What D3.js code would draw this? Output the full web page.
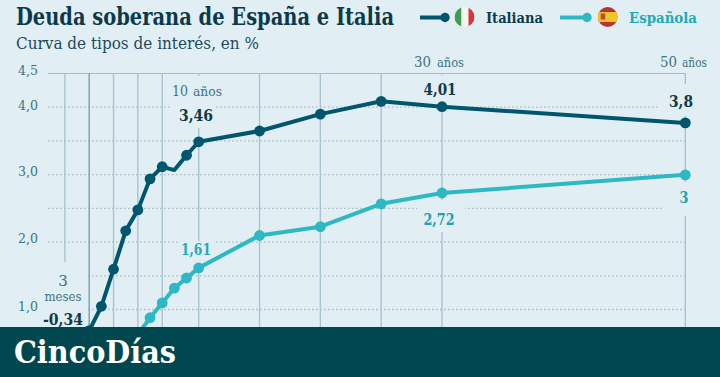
<!DOCTYPE html>
<html>
<head>
<meta charset="utf-8">
<script src="https://cdn.jsdelivr.net/npm/d3@7"></script>
<style>
  html, body { margin: 0; padding: 0; background: #e1eff4; }
  svg { display: block; font-family: "DejaVu Serif", serif; }
</style>
</head>
<body>
<svg id="chart" width="720" height="377" viewBox="0 0 720 377"></svg>
<script>
// Plazo en años; -1 y 0 son las posiciones de 3 y 6 meses.
const plazos = [-1, 0, 1, 2, 3, 4, 5, 6, 7, 8, 9, 10, 15, 20, 25, 30, 50];
// Los primeros valores quedan tapados por la banda inferior: estimados.
const italiana = [-0.34, 0.05, 0.68, 1.04, 1.59, 2.16, 2.47, 2.93, 3.11, 3.06, 3.28, 3.48, 3.64, 3.89, 4.08, 4.00, 3.76];
const espanola = [-0.5, -0.4, -0.2, 0.05, 0.25, 0.45, 0.62, 0.87, 1.09, 1.31, 1.46, 1.61, 2.09, 2.22, 2.56, 2.72, 2.99];
// Sin marcador en el punto de 8 años de la curva italiana.
const sinMarcadorItaliana = [8];
const plazosRejilla = [-1, 1, 3, 5, 7, 10, 15, 20, 25, 30, 50];
const ticksY = [1, 1.5, 2, 2.5, 3, 3.5, 4, 4.5];
const ticksConEtiqueta = [1, 2, 3, 4, 4.5];

const colorItaliana = "#00566e";
const colorEspanola = "#2db8c4";
const colorFondo = "#e1eff4";
const colorTexto = "#0f3a4b";
const colorEje = "#3b7487";
const colorBanda = "#00474f";

const svg = d3.select("#chart");
svg.append("rect").attr("width", 720).attr("height", 377).attr("fill", colorFondo);

const x = d3.scaleLinear().domain([0, 50]).range([77.05, 685.3]);
const y = d3.scaleLinear().domain([1, 4.5]).range([309, 73]);

// Rejilla horizontal con el eje de d3.
const ejeY = svg.append("g")
  .attr("transform", "translate(48,0)")
  .call(d3.axisLeft(y)
    .tickValues(ticksY)
    .tickSize(-637)
    .tickPadding(10)
    .tickFormat(d => {
      if (!ticksConEtiqueta.includes(d)) return "";
      return d3.format(".1f")(d).replace(".", ",");
    }));
ejeY.select(".domain").remove();
ejeY.selectAll(".tick line")
  .attr("stroke", d => d === 4.5 ? "#a3bfcc" : "#a9bcc4")
  .attr("stroke-width", d => d === 4.5 ? 1 : 1.3)
  .attr("stroke-dasharray", d => d === 4.5 ? null : "1.6 2.4");
ejeY.selectAll(".tick text")
  .attr("fill", colorEje)
  .attr("font-size", 13.5)
  .attr("font-family", "DejaVu Serif")
  .attr("textLength", 20)
  .attr("lengthAdjust", "spacingAndGlyphs")
  .attr("dy", d => d === 4.5 ? "0.12em" : (d === 4 ? "0.22em" : "0.1em"));

// Rejilla vertical.
svg.append("g").selectAll("line")
  .data(plazosRejilla)
  .join("line")
  .attr("x1", d => x(d))
  .attr("x2", d => x(d))
  .attr("y1", y(4.5))
  .attr("y2", 327)
  .attr("stroke", d => d === 1 ? "#86a9b9" : "#a9c4d0")
  .attr("stroke-width", d => d === 1 ? 1.6 : 1.4);

// Huecos de la rejilla detrás de las etiquetas.
const huecos = [
  [170, 76, 44, 52],
  [180, 241, 36, 25],
  [418, 75, 46, 27],
  [660, 84, 40, 32],
  [662, 182, 40, 34],
  [417, 200, 48, 32],
  [44, 262, 43, 65]
];
svg.append("g").selectAll("rect")
  .data(huecos)
  .join("rect")
  .attr("x", d => d[0])
  .attr("y", d => d[1])
  .attr("width", d => d[2])
  .attr("height", d => d[3])
  .attr("fill", colorFondo);

// Curvas.
const linea = d3.line().x(d => x(d[0])).y(d => y(d[1]));
function dibujarCurva(valores, color, sinMarcador) {
  const puntos = plazos.map((p, i) => [p, valores[i]]);
  svg.append("path")
    .attr("d", linea(puntos))
    .attr("fill", "none")
    .attr("stroke", color)
    .attr("stroke-width", 4)
    .attr("stroke-linejoin", "round");
  svg.append("g").selectAll("circle")
    .data(puntos.filter(d => !sinMarcador.includes(d[0])))
    .join("circle")
    .attr("cx", d => x(d[0]))
    .attr("cy", d => y(d[1]))
    .attr("r", 5.4)
    .attr("fill", color);
}
dibujarCurva(italiana, colorItaliana, sinMarcadorItaliana);
dibujarCurva(espanola, colorEspanola, []);

// Etiquetas de valor: texto, centro, línea base, color, ancho.
const etiquetas = [
  ["3,46", 196, 121, colorTexto, 34],
  ["4,01", 440, 95, colorTexto, 33],
  ["3,8", 681, 107, colorTexto, 24],
  ["-0,34", 63, 325, colorTexto, 40],
  ["1,61", 196, 255, "#23aab8", 30],
  ["2,72", 439, 225, "#23a0ae", 31],
  ["3", 684, 203, "#23a0ae", 9]
];
svg.append("g").selectAll("text")
  .data(etiquetas)
  .join("text")
  .attr("x", d => d[1])
  .attr("y", d => d[2])
  .attr("text-anchor", "middle")
  .attr("font-size", 17)
  .attr("font-weight", 700)
  .attr("fill", d => d[3])
  .attr("textLength", d => d[4])
  .attr("lengthAdjust", "spacingAndGlyphs")
  .text(d => d[0]);

// Etiquetas de plazo.
const plazoTexto = [["10", 172, 96, 16, 193, 29], ["30", 414, 67, 17, 437, 27], ["50", 660, 67, 17, 682, 25]];
plazoTexto.forEach(d => {
  svg.append("text").attr("x", d[1]).attr("y", d[2]).attr("fill", colorEje).attr("font-size", 15)
    .attr("textLength", d[3]).attr("lengthAdjust", "spacingAndGlyphs").text(d[0]);
  svg.append("text").attr("x", d[4]).attr("y", d[2]).attr("fill", colorEje).attr("font-size", 12.5)
    .attr("textLength", d[5]).attr("lengthAdjust", "spacingAndGlyphs").text("años");
});
svg.append("text").attr("x", 63).attr("y", 286).attr("text-anchor", "middle")
  .attr("fill", colorEje).attr("font-size", 15).text("3");
svg.append("text").attr("x", 63).attr("y", 301).attr("text-anchor", "middle")
  .attr("fill", colorEje).attr("font-size", 12.5)
  .attr("textLength", 37).attr("lengthAdjust", "spacingAndGlyphs").text("meses");

// Título.
svg.append("text").attr("x", 16).attr("y", 25)
  .attr("font-size", 24.5).attr("font-weight", 700).attr("fill", "#0c3a4c")
  .attr("textLength", 378).attr("lengthAdjust", "spacingAndGlyphs")
  .text("Deuda soberana de España e Italia");
svg.append("text").attr("x", 16).attr("y", 49)
  .attr("font-size", 17).attr("fill", "#1d4a5c")
  .attr("textLength", 243).attr("lengthAdjust", "spacingAndGlyphs")
  .text("Curva de tipos de interés, en %");

// Leyenda.
const defs = svg.append("defs");
function leyenda(x0, x1, color, cx, nombre, xTexto, anchoTexto, colorNombre, franjas) {
  svg.append("line").attr("x1", x0).attr("x2", x1).attr("y1", 17.5).attr("y2", 17.5)
    .attr("stroke", color).attr("stroke-width", 4);
  svg.append("circle").attr("cx", x1).attr("cy", 17.5).attr("r", 4.7).attr("fill", color);
  const id = "flag-" + nombre;
  defs.append("clipPath").attr("id", id).append("circle").attr("cx", cx).attr("cy", 17).attr("r", 10);
  const f = svg.append("g").attr("clip-path", `url(#${id})`);
  franjas(f, cx);
  svg.append("text").attr("x", xTexto).attr("y", 23)
    .attr("font-size", 15.5).attr("font-weight", 700).attr("fill", colorNombre)
    .attr("textLength", anchoTexto).attr("lengthAdjust", "spacingAndGlyphs")
    .text(nombre);
}
leyenda(420, 445, colorItaliana, 464.5, "Italiana", 486, 57, colorTexto, (f, cx) => {
  f.append("rect").attr("x", cx - 10).attr("y", 7).attr("width", 7).attr("height", 20).attr("fill", "#3f9e4f");
  f.append("rect").attr("x", cx - 3).attr("y", 7).attr("width", 7).attr("height", 20).attr("fill", "#f4f6f2");
  f.append("rect").attr("x", cx + 4).attr("y", 7).attr("width", 6).attr("height", 20).attr("fill", "#d9363a");
});
leyenda(560, 587, colorEspanola, 607.7, "Española", 629, 68, "#23a9b6", (f, cx) => {
  f.append("rect").attr("x", cx - 10).attr("y", 7).attr("width", 20).attr("height", 20).attr("fill", "#b8342f");
  f.append("rect").attr("x", cx - 10).attr("y", 12).attr("width", 20).attr("height", 10).attr("fill", "#f2c32c");
  f.append("rect").attr("x", cx - 7).attr("y", 13.5).attr("width", 4.5).attr("height", 6).attr("fill", "#b5502a");
});

// Banda inferior.
svg.append("rect").attr("x", 0).attr("y", 327).attr("width", 720).attr("height", 50).attr("fill", colorBanda);
svg.append("text").attr("x", 14).attr("y", 363)
  .attr("font-size", 32).attr("font-weight", 700).attr("fill", "#ffffff")
  .attr("textLength", 162).attr("lengthAdjust", "spacingAndGlyphs")
  .text("CincoDías");
</script>
</body>
</html>
